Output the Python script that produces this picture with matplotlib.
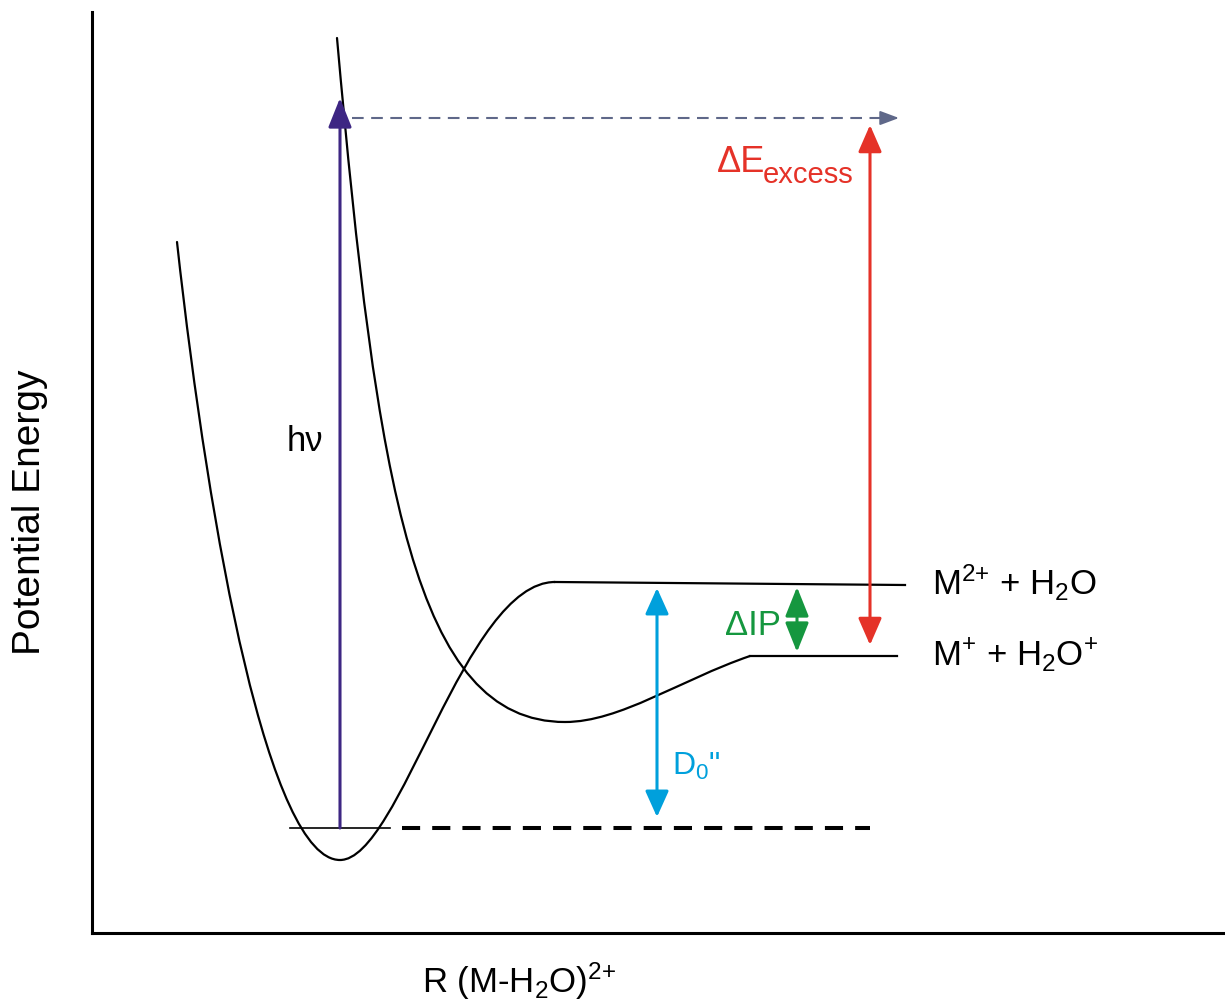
import matplotlib.pyplot as plt
from matplotlib.path import Path
from matplotlib.patches import PathPatch

plt.rcParams['font.family'] = ['Liberation Sans', 'DejaVu Sans']
plt.rcParams['mathtext.fontset'] = 'custom'
plt.rcParams['mathtext.rm'] = 'Liberation Sans'
plt.rcParams['mathtext.it'] = 'Liberation Sans:italic'
plt.rcParams['mathtext.bf'] = 'Liberation Sans:bold'

# potential curves, cubic Bezier control points in (R, E): start point then 3 per segment
ground_R = [85, 118, 178, 248, 308, 373, 463]
ground_E = [691, 391, 73, 73, 73, 351, 351]
ground_tail_R = [463, 813]
ground_tail_E = [351, 348]

excited_R = [245, 285, 323, 473, 528, 588, 658]
excited_E = [895, 445, 211, 211, 211, 253, 277]
excited_tail_R = [658, 805]
excited_tail_E = [277, 277]

# energy levels
E_zpe = 105
E_photon = 815
zpe_solid_R = [198, 298]
zpe_dash_R = [310, 778]
photon_R = [260, 807]

# vertical arrows: R, (bottom, top)
hv_R, hv_E = 248, (E_zpe, 835)
excess_R, excess_E = 778, (288, 808)
d0_R, d0_E = 565, (116, 345)
dip_R, dip_E = 705, (281, 346)

purple = '#3d2683'
red = '#e53228'
blue = '#00a0dc'
green = '#15973f'
slate = '#5f6889'


def bezier(ax, rs, es):
    verts = list(zip(rs, es))
    codes = [Path.MOVETO] + [Path.CURVE4] * (len(verts) - 1)
    ax.add_patch(PathPatch(Path(verts, codes), fill=False, lw=1.6, color='black',
                           capstyle='round'))


def varrow(ax, r, e0, e1, color, style, head_len, head_w, lw=2.2):
    ax.annotate('', xy=(r, e1), xytext=(r, e0),
                arrowprops=dict(arrowstyle=f'{style},head_length={head_len},head_width={head_w}',
                                color=color, lw=lw, shrinkA=0, shrinkB=0,
                                mutation_scale=10))


fig = plt.figure(figsize=(12.25, 10.08), dpi=100)
ax = fig.add_axes([92 / 1225, 75 / 1008, 1133 / 1225, 921 / 1008])
ax.set_xlim(0, 1133)
ax.set_ylim(0, 921)
ax.set_xticks([])
ax.set_yticks([])
ax.spines['top'].set_visible(False)
ax.spines['right'].set_visible(False)
for s in ('left', 'bottom'):
    ax.spines[s].set_linewidth(2.2)

bezier(ax, ground_R, ground_E)
ax.plot(ground_tail_R, ground_tail_E, color='black', lw=1.6)
bezier(ax, excited_R, excited_E)
ax.plot(excited_tail_R, excited_tail_E, color='black', lw=1.6)

ax.plot(zpe_solid_R, [E_zpe, E_zpe], color='black', lw=1.2)
ax.plot(zpe_dash_R, [E_zpe, E_zpe], color='black', lw=2.9, dashes=(4.5, 3.0))

# photon energy line
ax.plot([photon_R[0], photon_R[1] - 12], [E_photon, E_photon], color=slate, lw=1.5,
        dashes=(5.6, 3.6))
ax.annotate('', xy=(photon_R[1], E_photon), xytext=(photon_R[1] - 14, E_photon),
            arrowprops=dict(arrowstyle='-|>,head_length=1.15,head_width=0.43', color=slate,
                            lw=1.4, shrinkA=0, shrinkB=0, mutation_scale=10))

varrow(ax, hv_R, hv_E[0], hv_E[1], purple, '-|>', 1.8, 0.72)
varrow(ax, excess_R, excess_E[0], excess_E[1], red, '<|-|>', 1.65, 0.72)
varrow(ax, d0_R, d0_E[0], d0_E[1], blue, '<|-|>', 1.6, 0.72)
varrow(ax, dip_R, dip_E[0], dip_E[1], green, '<|-|>', 1.8, 0.72)

ax.text(195, 482, 'hν', fontsize=25, color='black', ha='left', va='baseline')
ax.text(625, 761, 'ΔE', fontsize=26, color=red, ha='left', va='baseline')
ax.text(671, 750, 'excess', fontsize=21, color=red, ha='left', va='baseline')
ax.text(633, 298, 'ΔIP', fontsize=25, color=green, ha='left', va='baseline')
ax.text(580, 158, 'D$_0$"', fontsize=23, color=blue, ha='left', va='baseline')
ax.text(840, 338, 'M$^{2{+}}$ + H$_2$O', fontsize=25, color='black', ha='left', va='baseline')
ax.text(840, 268, 'M$^{+}$ + H$_2$O$^{+}$', fontsize=25, color='black', ha='left',
        va='baseline')

fig.text(422 / 1225, 15 / 1008, 'R (M-H$_2$O)$^{2{+}}$', fontsize=25, ha='left',
         va='baseline')
fig.text(30 / 1225, 1 - 512 / 1008, 'Potential Energy', fontsize=28, rotation=90,
         ha='center', va='center')

fig.savefig('out.png', dpi=100)
